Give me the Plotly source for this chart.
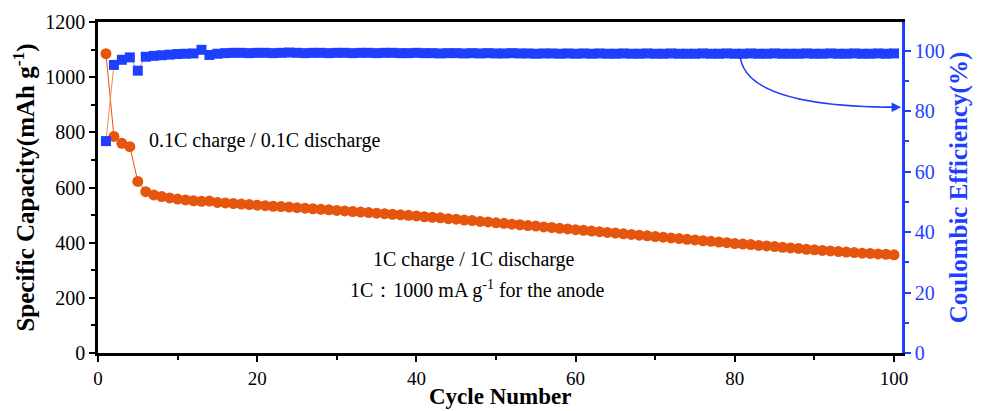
import plotly.graph_objects as go

cycles = list(range(1, 101))

capacity = [
    1085, 785, 760, 748, 622, 585, 573, 567, 562, 558,
    555, 552, 550, 551, 546, 544, 542, 540, 538, 536,
    534, 532, 531, 529, 527, 525, 523, 521, 519, 517,
    515, 513, 511, 509, 507, 505, 503, 501, 499, 497,
    494, 492, 490, 487, 485, 482, 480, 477, 475, 472,
    470, 467, 465, 462, 460, 457, 455, 452, 450, 447,
    445, 442, 440, 437, 435, 432, 430, 427, 425, 422,
    420, 417, 415, 412, 410, 407, 405, 402, 400, 397,
    395, 393, 390, 388, 386, 383, 381, 379, 376, 374,
    372, 370, 368, 366, 364, 362, 361, 359, 358, 356,
]

efficiency = [
    70.1, 95.3, 97.0, 97.8, 93.4, 98.0, 98.3, 98.5, 98.7, 98.9,
    99.0, 99.1, 100.3, 98.6, 99.0, 99.2, 99.3, 99.3, 99.2, 99.3,
    99.3, 99.2, 99.3, 99.4, 99.3, 99.2, 99.3, 99.3, 99.2, 99.3,
    99.3, 99.2, 99.3, 99.3, 99.2, 99.3, 99.3, 99.2, 99.2, 99.3,
    99.2, 99.2, 99.1, 99.2, 99.2, 99.1, 99.2, 99.1, 99.2, 99.1,
    99.1, 99.2, 99.1, 99.1, 99.0, 99.1, 99.1, 99.0, 99.1, 99.0,
    99.1, 99.0, 99.1, 99.0, 99.0, 99.1, 99.0, 99.0, 99.1, 99.0,
    99.0, 99.1, 99.0, 99.0, 99.0, 99.1, 99.0, 99.0, 99.1, 99.0,
    99.0, 99.1, 99.0, 99.0, 99.1, 99.0, 99.0, 99.0, 99.1, 99.0,
    99.0, 99.1, 99.0, 99.0, 99.1, 99.0, 99.0, 99.1, 99.0, 99.1,
]

ORANGE = "#E6550D"
BLUE = "#1F3FFF"
FONT = "'Liberation Serif', 'Times New Roman', Times, 'DejaVu Serif', serif"

PLOT_TOP = 22
PLOT_BOTTOM = 353
H = 411

fig = go.Figure()

fig.add_trace(go.Scatter(
    x=cycles, y=efficiency, yaxis="y2", mode="lines+markers",
    line=dict(color="#F08A5D", width=1),
    marker=dict(symbol="square", size=10, color=BLUE, line=dict(width=0)),
    showlegend=False,
))
fig.add_trace(go.Scatter(
    x=cycles, y=capacity, mode="lines+markers",
    line=dict(color=ORANGE, width=1),
    marker=dict(symbol="circle", size=11, color=ORANGE, line=dict(width=0)),
    showlegend=False,
))

# curved arrow pointing to right axis
fig.add_shape(
    type="path", xref="x", yref="y2",
    path="M 80.65,99.0 Q 80.9,81.3 100.6,81.3",
    line=dict(color=BLUE, width=1.6),
)
fig.add_annotation(
    x=100.9, y=81.3, ax=98.5, ay=81.3, xref="x", yref="y2", axref="x", ayref="y2",
    text="", showarrow=True, arrowhead=2, arrowsize=1.2, arrowwidth=1.6, arrowcolor=BLUE,
)

fig.add_annotation(x=21, y=770, xref="x", yref="y", text="0.1C charge / 0.1C discharge",
                   showarrow=False, font=dict(family=FONT, size=20, color="black"))
fig.add_annotation(x=47.2, y=338, xref="x", yref="y", text="1C charge / 1C discharge",
                   showarrow=False, font=dict(family=FONT, size=20, color="black"))
fig.add_annotation(x=47.7, y=231, xref="x", yref="y",
                   text="1C：1000 mA g<sup>-1</sup> for the anode",
                   showarrow=False, font=dict(family=FONT, size=20, color="black"))

# x-axis title as paper annotation, bottom edge on the page bottom
fig.add_annotation(x=0.5, y=-(H - PLOT_BOTTOM) / (PLOT_BOTTOM - PLOT_TOP),
                   xref="paper", yref="paper",
                   text="<b>Cycle Number</b>",
                   showarrow=False, xanchor="center", yanchor="bottom",
                   font=dict(family=FONT, size=23, color="black"))

fig.update_layout(
    width=981, height=H,
    margin=dict(l=98, r=79, t=PLOT_TOP, b=H - PLOT_BOTTOM),
    paper_bgcolor="white", plot_bgcolor="white",
    font=dict(family=FONT, color="black"),
    xaxis=dict(
        range=[0, 101], tickvals=[0, 20, 40, 60, 80, 100],
        showgrid=False, zeroline=False, automargin=False,
        showline=True, linecolor="black", linewidth=2.5, mirror=True,
        ticks="outside", ticklen=6, tickwidth=2, tickcolor="black",
        minor=dict(dtick=10, tick0=0, ticks="outside", ticklen=4, tickwidth=2, tickcolor="black"),
        tickfont=dict(family=FONT, size=19, color="black"),
    ),
    yaxis=dict(
        range=[0, 1200], tickvals=[0, 200, 400, 600, 800, 1000, 1200],
        showgrid=False, zeroline=False, automargin=False,
        showline=True, linecolor="black", linewidth=2.5,
        ticks="outside", ticklen=6, tickwidth=2, tickcolor="black",
        minor=dict(dtick=100, tick0=0, ticks="outside", ticklen=4, tickwidth=2, tickcolor="black"),
        tickfont=dict(family=FONT, size=20, color="black"),
        title=dict(text="<b>Specific Capacity(mAh g<sup>-1</sup>)</b>",
                   font=dict(family=FONT, size=25, color="black"), standoff=4),
    ),
    yaxis2=dict(
        overlaying="y", side="right", anchor="x", automargin=False,
        range=[0, 109.5], tickvals=[0, 20, 40, 60, 80, 100],
        showgrid=False, zeroline=False,
        showline=True, linecolor=BLUE, linewidth=2.5,
        ticks="outside", ticklen=6, tickwidth=2, tickcolor=BLUE,
        minor=dict(dtick=10, tick0=0, ticks="outside", ticklen=4, tickwidth=2, tickcolor=BLUE),
        tickfont=dict(family=FONT, size=20, color=BLUE),
        title=dict(text="<b>Coulombic Efficiency(%)</b>",
                   font=dict(family=FONT, size=25, color=BLUE), standoff=4),
    ),
)

fig.write_html("out.html")
